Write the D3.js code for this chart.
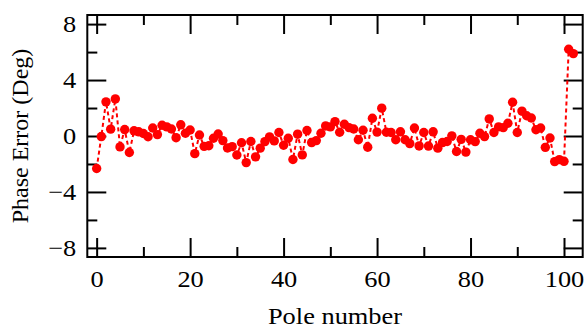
<!DOCTYPE html>
<html>
<head>
<meta charset="utf-8">
<script src="https://cdn.jsdelivr.net/npm/d3@7"></script>
<style>
    body { margin: 0; background: #fff; }
</style>
</head>
<body>
<svg id="chart" width="586" height="328"></svg>
<script>
// phase error per pole
const poles = d3.range(0, 103);
const phaseError = [
    -2.32, -0.04, 2.44, 0.49, 2.65, -0.78, 0.46, -1.18, 0.37, 0.30,
    0.18, -0.05, 0.57, 0.10, 0.77, 0.65, 0.50, -0.12, 0.80, 0.20,
    0.43, -1.26, 0.07, -0.74, -0.70, -0.16, 0.14, -0.33, -0.86, -0.76,
    -1.36, -0.48, -1.90, -0.39, -1.49, -0.87, -0.40, -0.06, -0.35, 0.25,
    -0.66, -0.16, -1.68, 0.13, -1.35, 0.39, -0.47, -0.33, 0.20, 0.72,
    0.65, 1.03, 0.27, 0.84, 0.60, 0.50, -0.27, 0.41, -0.80, 1.27,
    0.28, 1.99, 0.27, 0.25, -0.27, 0.30, -0.27, -0.54, 0.57, -0.71,
    0.25, -0.72, 0.30, -0.87, -0.47, -0.39, 0.01, -1.11, -0.24, -1.15,
    -0.27, -0.40, 0.20, -0.04, 1.22, 0.25, 0.65, 0.60, 0.91, 2.41,
    0.25, 1.78, 1.45, 1.29, 0.45, 0.57, -0.81, -0.14, -1.83, -1.69,
    -1.81, 6.20, 5.89
];
const xMajor = [0, 20, 40, 60, 80, 100];
const xMinor = [10, 30, 50, 70, 90];
const yMajor = [-8, -4, 0, 4, 8];
const yMinor = [-6, -2, 2, 6];

const data = poles.map((p, i) => ({ pole: p, value: phaseError[i] }));

const font = "'Liberation Serif', 'DejaVu Serif', serif";
const stretch = "scale(1.1,1)"; // the source picture is a bit wide
const m = { left: 87.3, right: 582.7, top: 15, bottom: 257 };
const svg = d3.select("#chart");

const x = d3.scaleLinear().domain([-2, 104]).range([m.left, m.right]);
const y = d3.scaleLinear().domain([-8.65, 8.65]).range([m.bottom, m.top]);

const major = 19, minor = 10;

function styleAxis(g) {
    g.attr("font-family", null);
    g.select(".domain").remove();
    g.selectAll(".tick line").attr("stroke", "#000").attr("stroke-width", 2);
    g.selectAll(".tick text")
        .style("font-family", font)
        .style("font-size", "24px")
        .attr("fill", "#000")
        .attr("transform", stretch);
}

// bottom axis
svg.append("g")
    .attr("transform", `translate(0,${m.bottom})`)
    .call(d3.axisBottom(x).tickValues(xMajor).tickSize(-major).tickPadding(13).tickFormat(d3.format("d")))
    .call(styleAxis);
svg.append("g")
    .attr("transform", `translate(0,${m.bottom})`)
    .call(d3.axisBottom(x).tickValues(xMinor).tickSize(-minor).tickFormat(""))
    .call(styleAxis);
// top axis
svg.append("g")
    .attr("transform", `translate(0,${m.top})`)
    .call(d3.axisTop(x).tickValues(xMajor).tickSize(-major).tickFormat(""))
    .call(styleAxis);
svg.append("g")
    .attr("transform", `translate(0,${m.top})`)
    .call(d3.axisTop(x).tickValues(xMinor).tickSize(-minor).tickFormat(""))
    .call(styleAxis);
// left axis
svg.append("g")
    .attr("transform", `translate(${m.left},0)`)
    .call(d3.axisLeft(y).tickValues(yMajor).tickSize(-major).tickPadding(10).tickFormat(d3.format("d")))
    .call(styleAxis);
svg.append("g")
    .attr("transform", `translate(${m.left},0)`)
    .call(d3.axisLeft(y).tickValues(yMinor).tickSize(-minor).tickFormat(""))
    .call(styleAxis);
// right axis
svg.append("g")
    .attr("transform", `translate(${m.right},0)`)
    .call(d3.axisRight(y).tickValues(yMajor).tickSize(-major).tickFormat(""))
    .call(styleAxis);
svg.append("g")
    .attr("transform", `translate(${m.right},0)`)
    .call(d3.axisRight(y).tickValues(yMinor).tickSize(-minor).tickFormat(""))
    .call(styleAxis);

// frame
svg.append("rect")
    .attr("x", m.left).attr("y", m.top)
    .attr("width", m.right - m.left).attr("height", m.bottom - m.top)
    .attr("fill", "none").attr("stroke", "#000").attr("stroke-width", 2);

// dashed connecting line
const line = d3.line().x(d => x(d.pole)).y(d => y(d.value));
svg.append("path")
    .datum(data)
    .attr("d", line)
    .attr("fill", "none")
    .attr("stroke", "#ff0000")
    .attr("stroke-width", 2)
    .attr("stroke-dasharray", "4,3");

svg.append("g")
    .selectAll("circle")
    .data(data)
    .enter().append("circle")
    .attr("cx", d => x(d.pole))
    .attr("cy", d => y(d.value))
    .attr("r", 4.7)
    .attr("fill", "#ff0000");

// titles
svg.append("text")
    .attr("transform", `translate(${(m.left + m.right) / 2},324) ${stretch}`)
    .attr("text-anchor", "middle")
    .style("font-family", font)
    .style("font-size", "24px")
    .text("Pole number");

svg.append("text")
    .attr("transform", `translate(28,${(m.top + m.bottom) / 2}) rotate(-90)`)
    .attr("text-anchor", "middle")
    .style("font-family", font)
    .style("font-size", "24px")
    .text("Phase Error (Deg)");
</script>
</body>
</html>
